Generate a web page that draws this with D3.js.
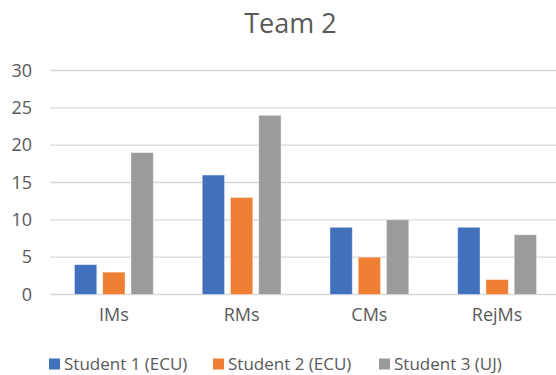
<!DOCTYPE html>
<html>
<head>
<meta charset="utf-8">
<script src="https://cdn.jsdelivr.net/npm/d3@7/dist/d3.min.js"></script>
<style>
  html, body { margin: 0; padding: 0; background: #fff; }
  svg { display: block; font-family: "Open Sans", sans-serif; }
</style>
</head>
<body>
<svg id="chart" width="556" height="375"></svg>
<script>
// Chart data
const categories = ["IMs", "RMs", "CMs", "RejMs"];
const seriesNames = ["Student 1 (ECU)", "Student 2 (ECU)", "Student 3 (UJ)"];
const student1 = [4, 16, 9, 9];
const student2 = [3, 13, 5, 2];
const student3 = [19, 24, 10, 8];
const yTicks = [0, 5, 10, 15, 20, 25, 30];
const title = "Team 2";

const seriesValues = [student1, student2, student3];
const colors = ["#4170BD", "#EE7F35", "#999B9C"];
const textColor = "#595959";

const svg = d3.select("#chart");
const W = 556, H = 375;
const plot = { left: 50, right: 561, top: 70.5, bottom: 294.5 };

// Scales
const x0 = d3.scaleBand()
  .domain(categories)
  .range([plot.left, plot.right])
  .paddingInner(0.383)
  .paddingOuter(0.1915);

const x1 = d3.scaleBand()
  .domain(d3.range(seriesNames.length))
  .range([0, x0.bandwidth()])
  .paddingInner(0.21);

const y = d3.scaleLinear()
  .domain([0, 30])
  .range([plot.bottom, plot.top]);

// Title
svg.append("text")
  .attr("x", 290.5)
  .attr("y", 33)
  .attr("text-anchor", "middle")
  .attr("fill", textColor)
  .style("font-size", "27px")
  .text(title);

// Horizontal gridlines
svg.append("g")
  .selectAll("line")
  .data(yTicks)
  .join("line")
  .attr("x1", plot.left)
  .attr("x2", plot.right)
  .attr("y1", d => y(d))
  .attr("y2", d => y(d))
  .attr("stroke", "#D9D9D9")
  .attr("stroke-width", 1.3);

// Y-axis labels via d3 axis
const yAxis = svg.append("g")
  .attr("transform", `translate(${plot.left - 16},0)`)
  .call(d3.axisLeft(y).tickValues(yTicks).tickSize(0).tickPadding(2));
yAxis.select(".domain").remove();
yAxis.selectAll("text")
  .attr("fill", textColor)
  .style("font-size", "18px")
  .style("font-family", "'Open Sans', sans-serif");

// Bars
const groups = svg.append("g")
  .selectAll("g")
  .data(categories)
  .join("g")
  .attr("transform", d => `translate(${x0(d)},0)`);

groups.selectAll("rect")
  .data((c, i) => seriesValues.map((vals, s) => ({ s, v: vals[i] })))
  .join("rect")
  .attr("x", d => x1(d.s))
  .attr("y", d => y(d.v))
  .attr("width", x1.bandwidth())
  .attr("height", d => y(0) - y(d.v))
  .attr("fill", d => colors[d.s])
  .attr("stroke", "#ffffff")
  .attr("stroke-opacity", 0.5)
  .attr("stroke-width", 0.8);

// Category axis labels
const xAxis = svg.append("g")
  .attr("transform", `translate(0,${plot.bottom})`)
  .call(d3.axisBottom(x0).tickSize(0).tickPadding(14));
xAxis.select(".domain").remove();
xAxis.selectAll("text")
  .attr("fill", textColor)
  .style("font-size", "18px")
  .style("font-family", "'Open Sans', sans-serif");

// Legend
const legendX = [49, 213, 379];
const legend = svg.append("g")
  .selectAll("g")
  .data(seriesNames)
  .join("g")
  .attr("transform", (d, i) => `translate(${legendX[i]},364)`);

legend.append("rect")
  .attr("x", 0)
  .attr("y", -5.5)
  .attr("width", 11)
  .attr("height", 11)
  .attr("fill", (d, i) => colors[i]);

legend.append("text")
  .attr("x", 15)
  .attr("y", 0)
  .attr("dy", "0.35em")
  .attr("fill", textColor)
  .style("font-size", "17px")
  .text(d => d);
</script>
</body>
</html>
